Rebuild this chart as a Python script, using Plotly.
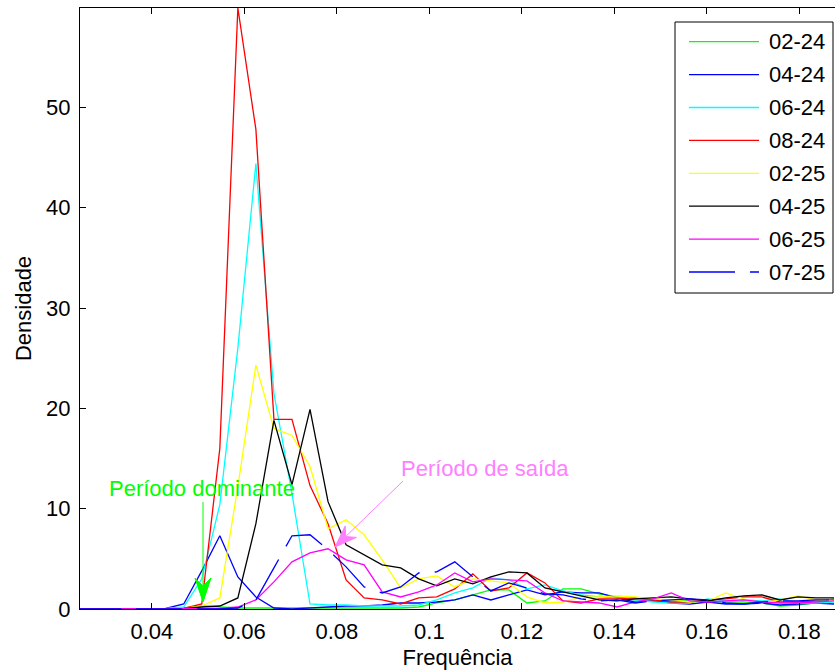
import plotly.graph_objects as go

# Frequency bins (cycles per sample) shared by every spectrum
freq = [0.0234, 0.0273, 0.0313, 0.0352, 0.0391, 0.0430, 0.0469, 0.0508, 0.0547, 0.0586,
        0.0625, 0.0664, 0.0703, 0.0742, 0.0781, 0.0820, 0.0859, 0.0898, 0.0938, 0.0977,
        0.1016, 0.1055, 0.1094, 0.1133, 0.1172, 0.1211, 0.1250, 0.1289, 0.1328, 0.1367,
        0.1406, 0.1445, 0.1484, 0.1523, 0.1563, 0.1602, 0.1641, 0.1680, 0.1719, 0.1758,
        0.1797, 0.1836, 0.1875]

# Spectral density of each campaign
dens_0224 = [0.02, 0.02, 0.02, 0.02, 0.03, 0.05, 0.1, 0.3, 0.2, 0.1,
             0.1, 0.1, 0.1, 0.1, 0.1, 0.1, 0.1, 0.1, 0.1, 0.2,
             0.6, 0.9, 1.4, 1.9, 1.9, 0.6, 0.8, 2.0, 2.0, 1.5,
             1.2, 0.9, 0.9, 0.9, 0.8, 0.8, 0.7, 0.7, 0.6, 0.3,
             0.4, 0.6, 1.0]
dens_0424 = [0.0, 0.0, 0.0, 0.0, 0.0, 0.05, 0.5, 3.8, 7.3, 3.2,
             1.2, 0.1, 0.0, 0.1, 0.2, 0.3, 0.3, 0.4, 0.6, 0.6,
             0.7, 0.9, 1.4, 0.9, 1.4, 1.9, 1.4, 1.7, 1.6, 1.6,
             1.1, 0.7, 0.8, 0.6, 0.5, 0.7, 0.5, 0.5, 0.6, 0.4,
             0.5, 0.6, 0.5]
dens_0624 = [0.0, 0.0, 0.0, 0.0, 0.0, 0.05, 0.2, 3.0, 10.4, 26.0,
             44.4, 21.5, 11.5, 0.5, 0.4, 0.4, 0.3, 0.3, 0.3, 0.4,
             0.9, 1.6, 2.1, 3.1, 2.9, 2.0, 2.4, 1.8, 1.4, 1.2,
             1.1, 0.9, 0.7, 0.6, 0.6, 1.0, 0.8, 0.9, 0.8, 1.0,
             0.6, 0.6, 0.7]
dens_0824 = [0.0, 0.0, 0.0, 0.0, 0.0, 0.0, 0.05, 0.5, 16.0, 59.9,
             47.8, 18.9, 18.9, 12.3, 8.5, 2.9, 1.1, 0.9, 0.5, 1.1,
             1.2, 2.0, 3.5, 1.8, 2.1, 3.6, 2.6, 0.8, 0.6, 1.0,
             1.0, 1.1, 0.9, 0.7, 0.7, 0.9, 1.0, 1.2, 1.2, 0.7,
             0.7, 0.8, 0.9]
dens_0225 = [0.0, 0.0, 0.0, 0.0, 0.0, 0.0, 0.05, 0.3, 1.1, 12.2,
             24.3, 18.0, 17.3, 14.2, 8.0, 8.9, 7.4, 4.9, 2.1, 3.0,
             3.3, 2.2, 3.0, 2.8, 2.6, 1.2, 0.6, 0.7, 1.2, 1.2,
             1.3, 1.2, 1.0, 0.9, 0.7, 0.8, 1.6, 1.0, 0.6, 0.9,
             1.3, 0.9, 0.8]
dens_0425 = [0.0, 0.0, 0.0, 0.0, 0.0, 0.0, 0.05, 0.2, 0.3, 1.1,
             8.5, 18.8, 12.4, 19.9, 10.7, 6.4, 5.4, 4.4, 4.1, 3.0,
             2.3, 3.0, 2.5, 3.2, 3.7, 3.6, 2.1, 1.7, 1.3, 0.9,
             0.8, 1.0, 1.1, 1.2, 1.0, 0.8, 1.1, 1.3, 1.4, 0.9,
             1.2, 1.1, 1.1]
dens_0625 = [0.0, 0.0, 0.0, 0.0, 0.0, 0.0, 0.0, 0.0, 0.05, 0.2,
             0.9, 2.7, 4.7, 5.6, 6.0, 4.9, 4.4, 1.7, 1.2, 1.7,
             2.4, 3.6, 2.7, 3.0, 2.9, 2.8, 1.6, 0.8, 0.7, 0.6,
             0.2, 0.7, 1.0, 1.6, 0.8, 0.7, 0.8, 0.9, 0.7, 0.6,
             0.6, 0.7, 0.8]
dens_0725 = [0.0, 0.0, 0.0, 0.0, 0.0, 0.0, 0.0, 0.0, 0.0, 0.1,
             0.9, 4.1, 7.3, 7.4, 5.9, 4.2, 2.2, 1.6, 2.2, 3.6,
             3.7, 4.7, 3.2, 1.8, 2.6, 2.1, 1.5, 1.4, 1.0, 0.8,
             0.9, 0.6, 0.8, 0.9, 1.0, 0.9, 0.6, 0.5, 0.7, 0.8,
             0.8, 0.9, 0.9]

labels = ["02-24", "04-24", "06-24", "08-24", "02-25", "04-25", "06-25", "07-25"]
series = [dens_0224, dens_0424, dens_0624, dens_0824, dens_0225, dens_0425, dens_0625, dens_0725]
colors = ["#00FF00", "#0000FF", "#00FFFF", "#FF0000", "#FFFF00", "#000000", "#FF00FF", "#0000FF"]
dashes = ["solid"] * 7 + ["46px,15px"]

x_ticks = [0.04, 0.06, 0.08, 0.10, 0.12, 0.14, 0.16, 0.18]
x_tick_text = ["0.04", "0.06", "0.08", "0.1", "0.12", "0.14", "0.16", "0.18"]
y_ticks = [0, 10, 20, 30, 40, 50]

W, H = 835, 672
ML, MR, MT, MB = 80, 0, 8, 63
X_RANGE = [0.02447, 0.18771]
Y_RANGE = [0.0, 59.9]
FONT = "Liberation Sans, Arial, Helvetica, sans-serif"

PW, PH = W - ML - MR, H - MT - MB


def to_data(px, py):
    """Pixel position in the page -> data coordinates."""
    fx = X_RANGE[0] + (px - ML) / PW * (X_RANGE[1] - X_RANGE[0])
    fy = Y_RANGE[0] + (MT + PH - py) / PH * (Y_RANGE[1] - Y_RANGE[0])
    return fx, fy


def to_paper(px, py):
    return (px - ML) / PW, (MT + PH - py) / PH


def arrow_shapes(tail, tip, color, length, half_w, notch):
    """Thin shaft plus a filled, back-notched head, given in page pixels."""
    dx, dy = tip[0] - tail[0], tip[1] - tail[1]
    d = (dx * dx + dy * dy) ** 0.5
    ux, uy = dx / d, dy / d
    nx, ny = -uy, ux
    bx, by = tip[0] - length * ux, tip[1] - length * uy
    c1 = (bx + half_w * nx, by + half_w * ny)
    c2 = (bx - half_w * nx, by - half_w * ny)
    nt = (tip[0] - notch * ux, tip[1] - notch * uy)
    pts = [to_data(*p) for p in (tip, c1, nt, c2)]
    path = "M{},{} L{},{} L{},{} L{},{} Z".format(*[v for p in pts for v in p])
    t0, t1 = to_data(*tail), to_data(*nt)
    return [
        dict(type="line", xref="x", yref="y", x0=t0[0], y0=t0[1], x1=t1[0], y1=t1[1],
             line=dict(color=color, width=1)),
        dict(type="path", xref="x", yref="y", path=path, fillcolor=color,
             line=dict(color=color, width=1)),
    ]


fig = go.Figure()
for name, vals, col, dash in zip(labels, series, colors, dashes):
    fig.add_trace(go.Scatter(x=freq, y=vals, mode="lines", name=name,
                             line=dict(color=col, width=1.3, dash=dash),
                             showlegend=False))

shapes = []
annotations = []

# Legend box drawn by hand (long sample lines, boxed)
bx0, by0 = to_paper(675, 293)
bx1, by1 = to_paper(833, 22)
shapes.append(dict(type="rect", xref="paper", yref="paper", x0=bx0, y0=by0, x1=bx1, y1=by1,
                   line=dict(color="black", width=1), fillcolor="white", layer="above"))
for i, (name, col, dash) in enumerate(zip(labels, colors, dashes)):
    yc = 41.7 + i * 32.9
    lx0, ly = to_paper(689, yc)
    lx1, _ = to_paper(759, yc)
    shapes.append(dict(type="line", xref="paper", yref="paper", x0=lx0, y0=ly, x1=lx1, y1=ly,
                       line=dict(color=col, width=1.3, dash=dash), layer="above"))
    tx, ty = to_paper(767, yc)
    annotations.append(dict(xref="paper", yref="paper", x=tx, y=ty, text=name,
                            showarrow=False, xanchor="left", yanchor="middle",
                            font=dict(family=FONT, size=22, color="black")))

# Dominant-period marker
shapes += arrow_shapes((203, 502), (203, 602), "#00FF00", 24, 8, 16)
ax_, ay_ = to_data(202, 488)
annotations.append(dict(x=ax_, y=ay_, text="Período dominante", showarrow=False,
                        xanchor="center", yanchor="middle",
                        font=dict(family=FONT, size=22, color="#00FF00")))

# Output-period marker
shapes += arrow_shapes((403, 481), (335, 547), "#FF80FF", 22, 8, 15)
px_, py_ = to_data(485, 468)
annotations.append(dict(x=px_, y=py_, text="Período de saída", showarrow=False,
                        xanchor="center", yanchor="middle",
                        font=dict(family=FONT, size=22, color="#FF80FF")))

fig.update_layout(
    width=W, height=H,
    margin=dict(l=ML, r=MR, t=MT, b=MB, pad=0),
    paper_bgcolor="white", plot_bgcolor="white",
    font=dict(family=FONT, size=22, color="black"),
    shapes=shapes, annotations=annotations,
    showlegend=False,
)
fig.update_xaxes(range=X_RANGE, tickvals=x_ticks, ticktext=x_tick_text,
                 showgrid=False, zeroline=False, showline=True, linecolor="black",
                 linewidth=1, mirror="ticks", ticks="inside", ticklen=6,
                 tickcolor="black", ticklabelstandoff=3,
                 title=dict(text="Frequência", standoff=6,
                            font=dict(family=FONT, size=22, color="black")))
fig.update_yaxes(range=Y_RANGE, tickvals=y_ticks,
                 showgrid=False, zeroline=False, showline=True, linecolor="black",
                 linewidth=1, mirror=False, ticks="inside", ticklen=6,
                 tickcolor="black", ticklabelstandoff=4,
                 title=dict(text="Densidade", standoff=8,
                            font=dict(family=FONT, size=22, color="black")))

fig.write_html("out.html")
